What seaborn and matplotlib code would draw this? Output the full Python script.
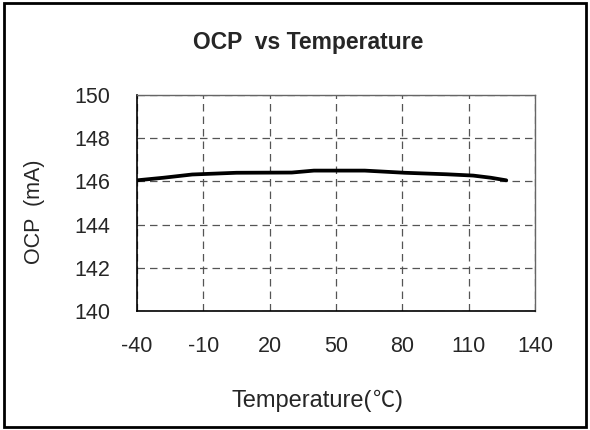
import pandas as pd
import matplotlib
matplotlib.use("Agg")
import matplotlib.pyplot as plt
import seaborn as sns

# data
temperature = [-40, -28, -15, -5, 5, 30, 40, 63, 81, 100, 112, 120, 127]
ocp_ma = [146.05, 146.17, 146.32, 146.36, 146.40, 146.41, 146.50, 146.50, 146.40, 146.33, 146.27, 146.17, 146.05]

x_ticks = [-40, -10, 20, 50, 80, 110, 140]
y_ticks = [140, 142, 144, 146, 148, 150]

df = pd.DataFrame({"Temperature": temperature, "OCP": ocp_ma})

sns.set_style("white")
plt.rcParams['font.family'] = ['Liberation Sans', 'Noto Sans CJK SC', 'DejaVu Sans']
plt.rcParams['axes.unicode_minus'] = False

fig = plt.figure(figsize=(5.9, 4.3), dpi=100)
ax = fig.add_axes([137 / 590, 1 - 311 / 430, (535 - 137) / 590, (311 - 95) / 430])

sns.lineplot(data=df, x="Temperature", y="OCP", ax=ax, color="black", linewidth=2.7)

ax.set_xlim(-40, 140)
ax.set_ylim(140, 150)
ax.set_xticks(x_ticks)
ax.set_yticks(y_ticks)
ax.tick_params(axis="both", direction="in", length=3, width=1, color="#333333",
               labelsize=15.5)
ax.tick_params(axis="x", pad=18)
ax.tick_params(axis="y", pad=19)

ax.grid(True, color="#555555", linestyle=(0, (6, 4)), linewidth=0.9)
for s in ["left", "bottom"]:
    ax.spines[s].set_color("black")
    ax.spines[s].set_linewidth(1.2)
for s in ["top", "right"]:
    ax.spines[s].set_color("#666666")
    ax.spines[s].set_linewidth(1.0)

ax.set_xlabel("")
ax.set_ylabel("")

# x label: the degree sign comes from a CJK font, as in the reference
base_y = 1 - 407 / 430
t1 = fig.text(232 / 590, base_y, "Temperature(", ha="left", va="baseline", fontsize=17)
t2 = ax.annotate("℃", xy=(1, base_y), xycoords=(t1, "figure fraction"),
                 ha="left", va="baseline", fontsize=16, family="Noto Sans CJK SC",
                 fontweight="light", annotation_clip=False)
ax.annotate(")", xy=(1, base_y), xycoords=(t2, "figure fraction"),
            ha="left", va="baseline", fontsize=17, annotation_clip=False)

fig.text(0.059, 0.507, "OCP  (mA)", ha="center", va="center", rotation=90, fontsize=15.5)

fig.text(0.523, 0.9, "OCP  vs Temperature", ha="center", va="center",
         fontsize=16.5, fontweight="bold")

# outer frame
fig.patches.append(plt.Rectangle((0.006, 0.006), 0.988, 0.988, transform=fig.transFigure,
                                 fill=False, edgecolor="black", linewidth=2))

fig.savefig("out.png", dpi=100)
